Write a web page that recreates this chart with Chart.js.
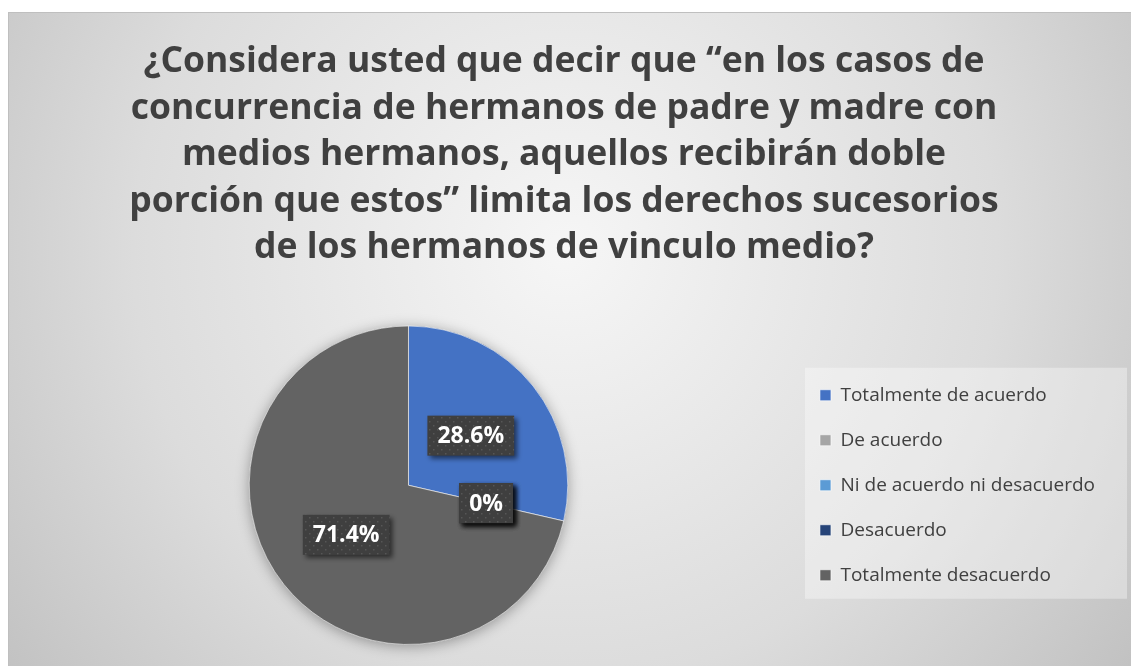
<!DOCTYPE html>
<html>
<head>
<meta charset="utf-8">
<script src="https://cdn.jsdelivr.net/npm/chart.js@4.4.0/dist/chart.umd.min.js"></script>
<style>
  html, body { margin: 0; padding: 0; background: #ffffff; }
  #wrap { width: 1131px; height: 666px; position: relative; }
</style>
</head>
<body>
<div id="wrap"><canvas id="myChart"></canvas></div>
<script>
// Datos del grafico
const titleLines = [
    '¿Considera usted que decir que “en los casos de',
    'concurrencia de hermanos de padre y madre con',
    'medios hermanos, aquellos recibirán doble',
    'porción que estos” limita los derechos sucesorios',
    'de los hermanos de vinculo medio?'
];
const categorias = [
    'Totalmente de acuerdo',
    'De acuerdo',
    'Ni de acuerdo ni desacuerdo',
    'Desacuerdo',
    'Totalmente desacuerdo'
];
const porcentajes = [28.6, 0, 0, 0, 71.4];
const colores = ['#4472C4', '#A5A5A5', '#5B9BD5', '#264478', '#636363'];

const textColor = '#404040';
const fontFamily = '"Open Sans", Lato, sans-serif';

// Fondo gris con degradado y recuadro
const fondoPlugin = {
    id: 'fondo',
    beforeDraw(chart) {
        const ctx = chart.ctx;
        const w = chart.width, h = chart.height;
        ctx.save();
        ctx.fillStyle = '#ffffff';
        ctx.fillRect(0, 0, w, h);
        const g = ctx.createRadialGradient(565, 250, 0, 565, 250, 720);
        g.addColorStop(0, '#f6f6f6');
        g.addColorStop(0.6, '#dcdcdc');
        g.addColorStop(1, '#c0c0c0');
        ctx.fillStyle = g;
        ctx.fillRect(8.5, 12.5, w, h);
        ctx.strokeStyle = '#bfbfbf';
        ctx.lineWidth = 1;
        ctx.strokeRect(8.5, 12.5, w, h);

        // caja clara detras de la leyenda
        const lg = chart.legend;
        if (lg && lg.legendHitBoxes && lg.legendHitBoxes.length) {
            const hb = lg.legendHitBoxes;
            const x0 = hb[0].left - 15;
            const y0 = hb[0].top - 18;
            const y1 = hb[hb.length - 1].top + hb[hb.length - 1].height + 14;
            ctx.fillStyle = 'rgba(255,255,255,0.35)';
            ctx.fillRect(x0, y0, 1127 - x0, y1 - y0);
        }
        ctx.restore();
    },
    beforeDatasetsDraw(chart) {
        // sombra suave alrededor del pie
        const arc = chart.getDatasetMeta(0).data[0];
        if (!arc) return;
        const ctx = chart.ctx;
        ctx.save();
        ctx.shadowColor = 'rgba(0,0,0,0.35)';
        ctx.shadowBlur = 14;
        ctx.shadowOffsetX = 0;
        ctx.shadowOffsetY = 2;
        ctx.fillStyle = '#636363';
        ctx.beginPath();
        ctx.arc(arc.x, arc.y, arc.outerRadius, 0, Math.PI * 2);
        ctx.fill();
        ctx.restore();
    }
};

// Etiquetas de porcentaje en cajas oscuras
function patronPuntos(ctx) {
    const c = document.createElement('canvas');
    c.width = 8; c.height = 8;
    const p = c.getContext('2d');
    p.fillStyle = '#3f3f3f';
    p.fillRect(0, 0, 8, 8);
    p.fillStyle = '#565656';
    p.fillRect(1, 1, 1.5, 1.5);
    p.fillRect(5, 5, 1.5, 1.5);
    return ctx.createPattern(c, 'repeat');
}

const etiquetasPlugin = {
    id: 'etiquetas',
    afterDatasetsDraw(chart) {
        const ctx = chart.ctx;
        const meta = chart.getDatasetMeta(0);
        const patron = patronPuntos(ctx);
        ctx.save();
        ctx.font = 'bold 23px ' + fontFamily;
        meta.data.forEach((arc, i) => {
            const v = porcentajes[i];
            const txt = (Number.isInteger(v) ? v : v.toFixed(1)) + '%';
            const pos = arc.tooltipPosition();
            const tw = ctx.measureText(txt).width;
            const bw = tw + 20, bh = 40;
            ctx.save();
            ctx.shadowColor = 'rgba(0,0,0,0.55)';
            ctx.shadowBlur = 5;
            ctx.shadowOffsetX = 3;
            ctx.shadowOffsetY = 3;
            ctx.fillStyle = patron;
            ctx.fillRect(pos.x - bw / 2, pos.y - bh / 2, bw, bh);
            ctx.restore();
            ctx.fillStyle = '#ffffff';
            ctx.textAlign = 'center';
            ctx.textBaseline = 'middle';
            ctx.fillText(txt, pos.x, pos.y + 1);
        });
        ctx.restore();
    }
};

const ctx = document.getElementById('myChart').getContext('2d');
const myChart = new Chart(ctx, {
    type: 'pie',
    data: {
        labels: categorias,
        datasets: [{
            data: porcentajes,
            backgroundColor: colores,
            borderColor: 'rgba(255,255,255,0.6)',
            borderWidth: 1
        }]
    },
    options: {
        responsive: true,
        maintainAspectRatio: false,
        animation: false,
        layout: { padding: { top: 16, left: 23, right: 26, bottom: 21 } },
        plugins: {
            tooltip: { enabled: false },
            title: {
                display: true,
                text: titleLines,
                color: textColor,
                font: { family: fontFamily, size: 35.5, weight: 'bold', lineHeight: 46.5 / 35.5 },
                padding: { top: 23, bottom: 54 }
            },
            legend: {
                display: true,
                position: 'right',
                align: 'center',
                fullSize: false,
                labels: {
                    color: textColor,
                    font: { family: fontFamily, size: 19 },
                    boxWidth: 11,
                    boxHeight: 11,
                    padding: 26
                }
            }
        }
    },
    plugins: [fondoPlugin, etiquetasPlugin]
});
</script>
</body>
</html>
